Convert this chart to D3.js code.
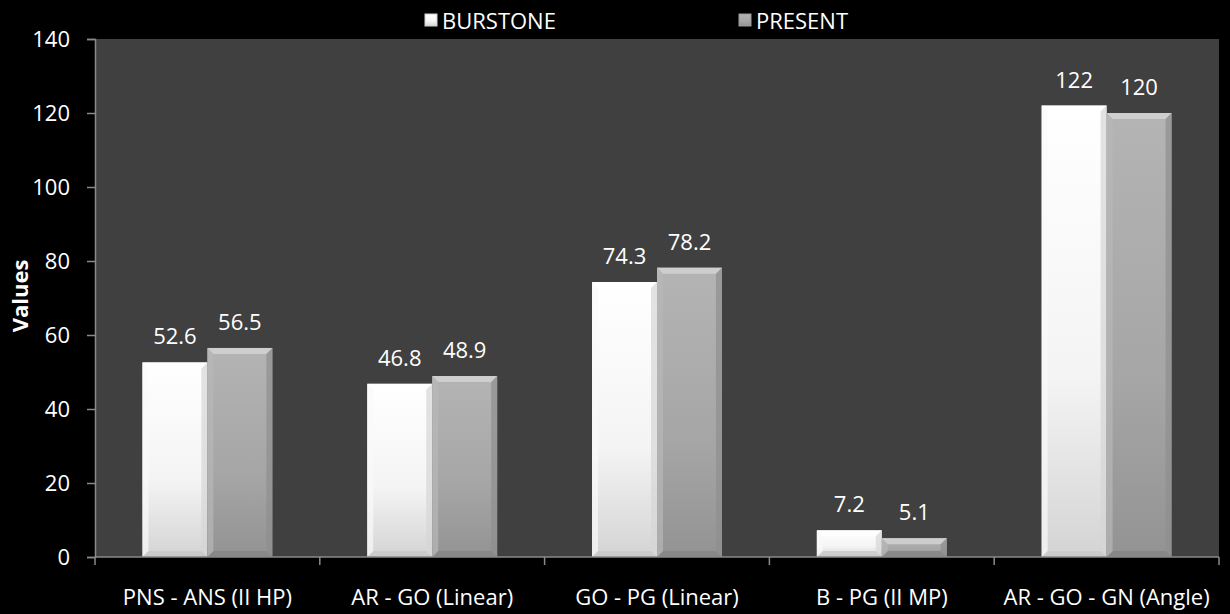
<!DOCTYPE html>
<html>
<head>
<meta charset="utf-8">
<script src="https://cdn.jsdelivr.net/npm/d3@7"></script>
<style>
  html, body { margin: 0; padding: 0; background: #000; }
  svg { display: block; }
  text { font-family: "Open Sans", "Lato", sans-serif; fill: #fff; }
</style>
</head>
<body>
<svg id="chart" width="1230" height="614"></svg>
<script>
const categories = ["PNS - ANS (II HP)", "AR - GO (Linear)", "GO - PG (Linear)", "B - PG (II MP)", "AR - GO - GN (Angle)"];
const seriesNames = ["BURSTONE", "PRESENT"];
const burstone = [52.6, 46.8, 74.3, 7.2, 122];
const present = [56.5, 48.9, 78.2, 5.1, 120];
const yTicks = [0, 20, 40, 60, 80, 100, 120, 140];

const W = 1230, H = 614;
const margin = { left: 95, right: 11, top: 39, bottom: 57 };
const svg = d3.select("#chart");

const x = d3.scaleBand().domain(categories).range([margin.left, W - margin.right]).paddingInner(0).paddingOuter(0);
const xs = d3.scaleBand().domain(seriesNames).range([0, x.bandwidth()]).paddingInner(0).paddingOuter(0.73);
const y = d3.scaleLinear().domain([0, 140]).range([H - margin.bottom, margin.top]);

// gradients for the two series
const defs = svg.append("defs");
const grads = [
  { id: "g0", stops: [["0%", "#ffffff"], ["60%", "#f4f4f4"], ["100%", "#d4d4d4"]] },
  { id: "g1", stops: [["0%", "#b4b4b4"], ["60%", "#a6a6a6"], ["100%", "#939393"]] }
];
grads.forEach(g => {
  const lg = defs.append("linearGradient").attr("id", g.id).attr("x1", 0).attr("y1", 0).attr("x2", 0).attr("y2", 1);
  g.stops.forEach(s => lg.append("stop").attr("offset", s[0]).attr("stop-color", s[1]));
});

// plot area
svg.append("rect")
  .attr("x", margin.left).attr("y", margin.top)
  .attr("width", W - margin.right - margin.left)
  .attr("height", H - margin.bottom - margin.top)
  .attr("fill", "#404040");

// bars with bevelled edges
const bevel = 6;
const bevelColors = [
  { top: "#ffffff", bottom: "#c8c8c8", left: "#fafafa", right: "#d6d6d6" },
  { top: "#d0d0d0", bottom: "#858585", left: "#b8b8b8", right: "#8e8e8e" }
];
const rows = categories.map((c, i) => ({ cat: c, vals: [burstone[i], present[i]] }));
const gBars = svg.append("g");
rows.forEach(r => {
  r.vals.forEach((v, si) => {
    const x0 = x(r.cat) + xs(seriesNames[si]);
    const w = xs.bandwidth();
    const y0 = y(v), y1 = y(0);
    const h = y1 - y0;
    const b = Math.min(bevel, h / 2, w / 2);
    const g = gBars.append("g");
    g.append("rect").attr("x", x0).attr("y", y0).attr("width", w).attr("height", h).attr("fill", `url(#g${si})`);
    const bc = bevelColors[si];
    const poly = pts => pts.map(p => p.join(",")).join(" ");
    g.append("polygon").attr("points", poly([[x0, y0], [x0 + w, y0], [x0 + w - b, y0 + b], [x0 + b, y0 + b]])).attr("fill", bc.top).attr("opacity", 0.9);
    g.append("polygon").attr("points", poly([[x0, y1], [x0 + w, y1], [x0 + w - b, y1 - b], [x0 + b, y1 - b]])).attr("fill", bc.bottom).attr("opacity", 0.8);
    g.append("polygon").attr("points", poly([[x0, y0], [x0 + b, y0 + b], [x0 + b, y1 - b], [x0, y1]])).attr("fill", bc.left).attr("opacity", 0.7);
    g.append("polygon").attr("points", poly([[x0 + w, y0], [x0 + w - b, y0 + b], [x0 + w - b, y1 - b], [x0 + w, y1]])).attr("fill", bc.right).attr("opacity", 0.7);
    // value label
    svg.append("text")
      .attr("x", x0 + w / 2).attr("y", y0 - 18)
      .attr("text-anchor", "middle")
      .attr("font-size", 22)
      .text(v);
  });
});

// axes
const axisColor = "#8a8a8a";
const yAxis = svg.append("g").attr("transform", `translate(${margin.left},0)`)
  .call(d3.axisLeft(y).tickValues(yTicks).tickSize(8).tickPadding(17));
const xAxis = svg.append("g").attr("transform", `translate(0,${H - margin.bottom})`)
  .call(d3.axisBottom(x).tickSize(0).tickPadding(32));
[yAxis, xAxis].forEach(a => {
  a.select(".domain").attr("stroke", axisColor).attr("stroke-width", 1.5);
  a.selectAll(".tick line").attr("stroke", axisColor).attr("stroke-width", 1.5);
  a.selectAll("text").attr("fill", "#fff").attr("font-size", 22).attr("font-family", "'Open Sans', sans-serif");
});
xAxis.select(".domain").attr("d", `M${margin.left},0H${W - margin.right}`);
// category boundary ticks
const bounds = categories.map(c => x(c)).concat([x(categories[categories.length - 1]) + x.bandwidth()]);
xAxis.selectAll(".boundary").data(bounds).enter().append("line")
  .attr("x1", d => d).attr("x2", d => d).attr("y1", 0).attr("y2", 8)
  .attr("stroke", axisColor).attr("stroke-width", 1.5);

// y title
svg.append("text")
  .attr("transform", `translate(28,${(margin.top + H - margin.bottom) / 2 - 2}) rotate(-90)`)
  .attr("text-anchor", "middle")
  .attr("font-size", 22).attr("font-weight", "bold")
  .text("Values");

// legend
const legendX = [425, 739];
const lg = svg.append("g");
seriesNames.forEach((s, i) => {
  lg.append("rect").attr("x", legendX[i]).attr("y", 14).attr("width", 12).attr("height", 12)
    .attr("fill", `url(#g${i})`).attr("stroke", i ? "#9a9a9a" : "#d0d0d0").attr("stroke-width", 1);
  lg.append("text").attr("x", legendX[i] + 17).attr("y", 29).attr("font-size", 22).text(s);
});
</script>
</body>
</html>
